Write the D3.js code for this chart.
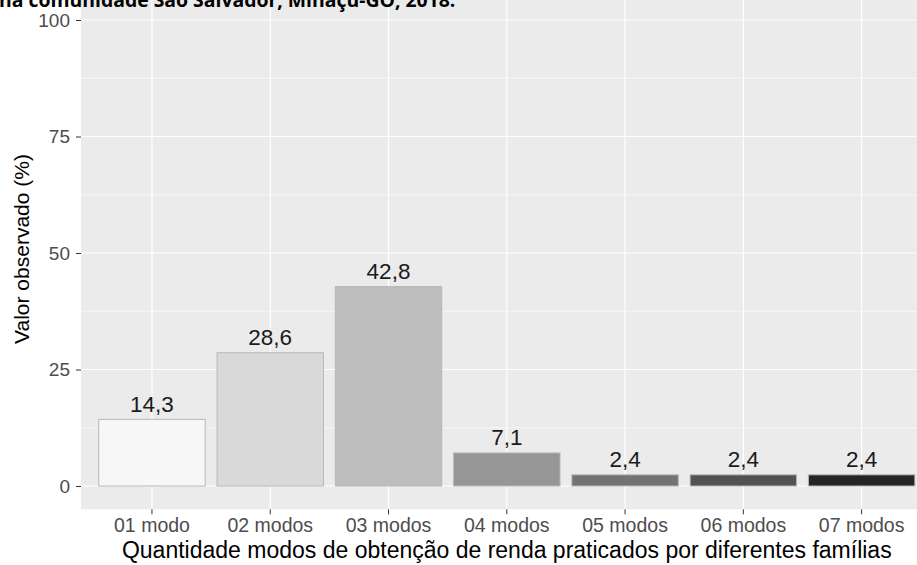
<!DOCTYPE html>
<html><head><meta charset="utf-8">
<script src="https://cdn.jsdelivr.net/npm/d3@7"></script>
<style>body{margin:0;background:#fff}svg{display:block}</style>
</head><body>
<svg id="c" width="917" height="565"></svg>
<script>
const categories = ["01 modo","02 modos","03 modos","04 modos","05 modos","06 modos","07 modos"];
const values = [14.3, 28.6, 42.8, 7.1, 2.4, 2.4, 2.4];
const labels = ["14,3","28,6","42,8","7,1","2,4","2,4","2,4"];
const fills = ["#F7F7F7","#D9D9D9","#BDBDBD","#969696","#737373","#525252","#252525"];
const yTicks = [0,25,50,75,100];
const yMinor = [12.5,37.5,62.5,87.5];
const titleText = "na comunidade São Salvador, Minaçu-GO, 2018.";
const xTitle = "Quantidade modos de obtenção de renda praticados por diferentes famílias";
const yTitle = "Valor observado (%)";

const FONT = "Liberation Sans, Arial, sans-serif";
const svg = d3.select("#c");
const panel = {left:81, right:932.6, top:-3.3, bottom:509.3};
const y = d3.scaleLinear().domain([-5,105]).range([panel.bottom, panel.top]);
const step = (panel.right-panel.left)/(categories.length+0.2);
const x = d3.scaleBand().domain(categories)
  .range([panel.left+0.1*step, panel.right-0.1*step]).paddingInner(0.1).paddingOuter(0.05);

svg.append("rect").attr("x",panel.left).attr("y",panel.top)
  .attr("width",panel.right-panel.left).attr("height",panel.bottom-panel.top).attr("fill","#EBEBEB");

const g = svg.append("g");
g.selectAll(".minor").data(yMinor).join("line")
  .attr("x1",panel.left).attr("x2",panel.right).attr("y1",d=>y(d)).attr("y2",d=>y(d))
  .attr("stroke","#fff").attr("stroke-width",0.6);
g.selectAll(".major").data(yTicks).join("line")
  .attr("x1",panel.left).attr("x2",panel.right).attr("y1",d=>y(d)).attr("y2",d=>y(d))
  .attr("stroke","#fff").attr("stroke-width",1.2);
g.selectAll(".vx").data(categories).join("line")
  .attr("x1",d=>x(d)+x.bandwidth()/2).attr("x2",d=>x(d)+x.bandwidth()/2)
  .attr("y1",panel.top).attr("y2",panel.bottom)
  .attr("stroke","#fff").attr("stroke-width",1.2);

svg.selectAll(".bar").data(categories).join("rect")
  .attr("x",d=>x(d)).attr("width",x.bandwidth())
  .attr("y",(d,i)=>y(values[i])).attr("height",(d,i)=>y(0)-y(values[i]))
  .attr("fill",(d,i)=>fills[i]).attr("stroke","#B8B8B8").attr("stroke-width",1);

svg.selectAll(".lab").data(categories).join("text")
  .attr("x",d=>x(d)+x.bandwidth()/2).attr("y",(d,i)=>y(values[i])-7.5)
  .attr("text-anchor","middle").attr("font-family",FONT)
  .attr("font-size",22.5).attr("fill","#1a1a1a").text((d,i)=>labels[i]);

// y axis
const ya = svg.append("g").attr("transform",`translate(${panel.left},0)`)
  .call(d3.axisLeft(y).tickValues(yTicks).tickSize(5).tickPadding(6));
ya.select(".domain").remove();
ya.selectAll("line").attr("stroke","#333");
ya.selectAll("text").attr("font-family",FONT).attr("font-size",19).attr("fill","#4D4D4D");

// x axis
const xa = svg.append("g").attr("transform",`translate(0,${panel.bottom})`)
  .call(d3.axisBottom(x).tickSize(5).tickPadding(4));
xa.select(".domain").remove();
xa.selectAll("line").attr("stroke","#333");
xa.selectAll("text").attr("font-family",FONT).attr("font-size",19.5).attr("fill","#4D4D4D");

svg.append("text").attr("x",(panel.left+panel.right)/2).attr("y",558)
  .attr("text-anchor","middle").attr("font-family",FONT)
  .attr("font-size",23).attr("fill","#000").text(xTitle);

svg.append("text").attr("transform",`translate(29,${(panel.top+panel.bottom)/2 - 4}) rotate(-90)`)
  .attr("text-anchor","middle").attr("font-family",FONT)
  .attr("font-size",21).attr("fill","#000").text(yTitle);

svg.append("text").attr("x",-1).attr("y",7)
  .attr("font-family","Open Sans, sans-serif").attr("font-weight","bold")
  .attr("font-size",19.4).attr("fill","#000").text(titleText);
</script>
</body></html>
